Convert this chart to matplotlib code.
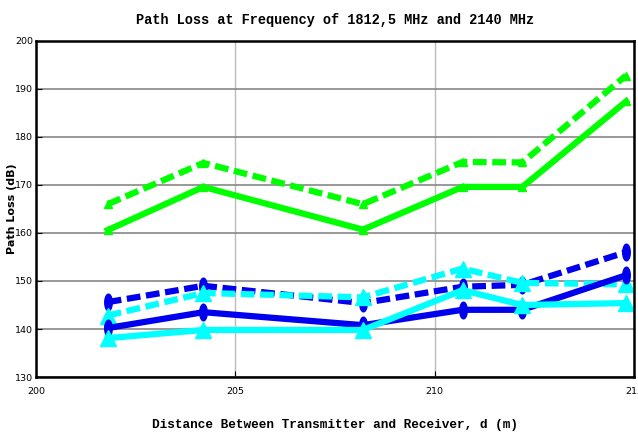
import numpy as np
import matplotlib
matplotlib.use("Agg")
import matplotlib.pyplot as plt
from matplotlib.path import Path

# distance between transmitter and receiver (m)
jarak = [201.8, 204.2, 208.2, 210.7, 212.2, 214.8]

# path loss (dB) for each model / frequency
hijau_solid = [160.6, 169.6, 160.7, 169.6, 169.6, 187.4]
hijau_putus = [166.0, 174.6, 166.0, 174.8, 174.7, 192.8]
biru_putus = [145.6, 149.0, 145.4, 148.8, 149.2, 156.0]
biru_solid = [140.2, 143.5, 140.8, 144.0, 144.0, 151.2]
cyan_putus = [142.8, 147.5, 146.6, 152.6, 149.6, 149.3]
cyan_solid = [138.1, 139.8, 139.8, 148.1, 145.0, 145.4]

xticks = [200, 205, 210, 215]
yticks = [130, 140, 150, 160, 170, 180, 190, 200]

# tall ellipse marker
t = np.linspace(0, 2 * np.pi, 40)
elips = Path(np.column_stack([0.45 * np.cos(t), np.sin(t)]), closed=True)

fig = plt.figure(figsize=(6.38, 4.45), dpi=100)
ax = fig.add_axes([0.0564, 0.1528, 0.9373, 0.7551])

lw = 4.5
dash = (0, (2.2, 0.9))
ax.plot(jarak, hijau_putus, color="#00ff00", lw=lw, ls=dash, marker="^", ms=6)
ax.plot(jarak, hijau_solid, color="#00ff00", lw=lw, marker="^", ms=6)
ax.plot(jarak, biru_putus, color="#0000ee", lw=lw, ls=dash, marker=elips, ms=12)
ax.plot(jarak, cyan_putus, color="#00ffff", lw=lw, ls=dash, marker="^", ms=11)
ax.plot(jarak, biru_solid, color="#0000ee", lw=lw, marker=elips, ms=12)
ax.plot(jarak, cyan_solid, color="#00ffff", lw=lw, marker="^", ms=11)

ax.set_xlim(200, 215)
ax.set_ylim(130, 200)
ax.set_xticks(xticks)
ax.set_yticks(yticks)
ax.tick_params(direction="in", labelsize=6.8, length=4)
ax.tick_params(axis="y", pad=2)
ax.tick_params(axis="x", pad=7)
ax.grid(True, axis="y", color="#888888", lw=1.2)
ax.grid(True, axis="x", color="#bbbbbb", lw=1.0)
for s in ax.spines.values():
    s.set_linewidth(1.8)

ax.set_title("Path Loss at Frequency of 1812,5 MHz and 2140 MHz",
             family="Liberation Mono", weight="bold", fontsize=9.8, pad=12)
ax.set_xlabel("Distance Between Transmitter and Receiver, d (m)",
              family="Liberation Mono", weight="bold", fontsize=9.2, labelpad=17)
ax.set_ylabel("Path Loss (dB)", family="DejaVu Sans", weight="bold", fontsize=8)
ax.yaxis.set_label_coords(-0.032, 0.5)

fig.savefig("out.png", dpi=100)
